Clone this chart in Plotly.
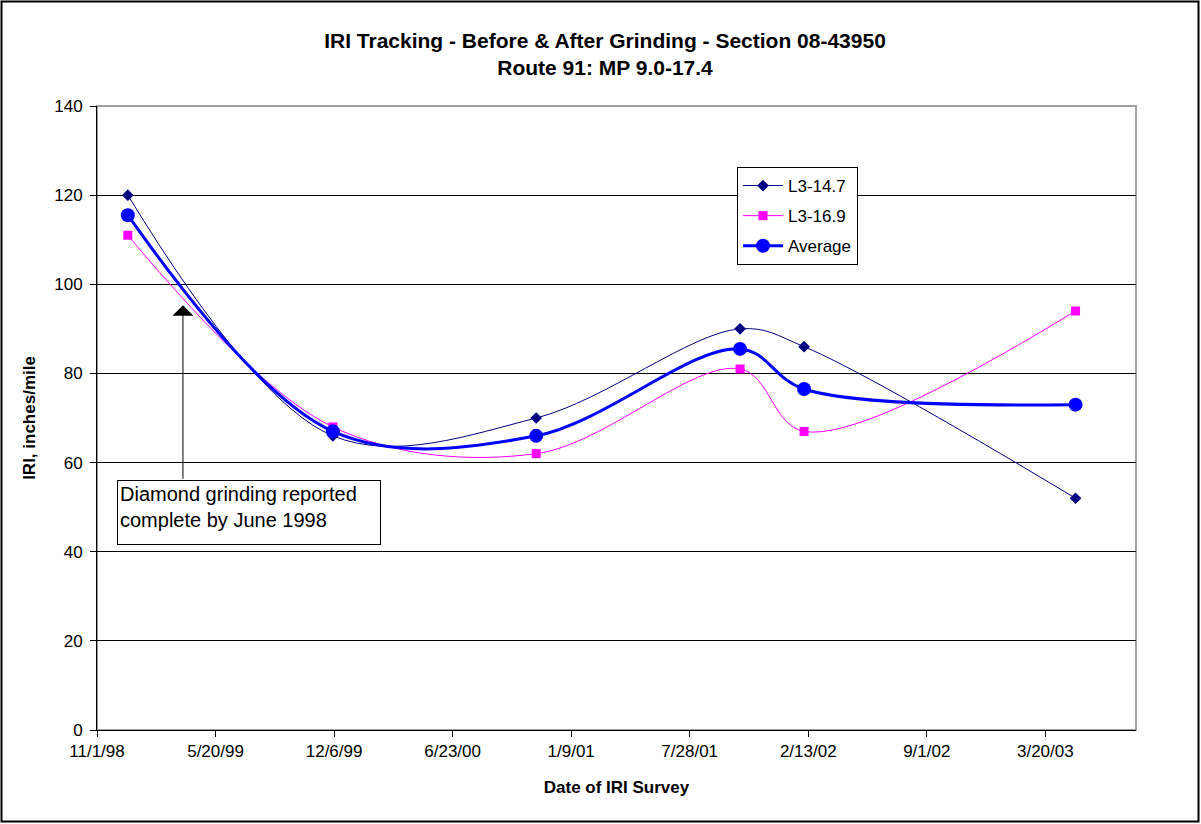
import plotly.graph_objects as go

dates = ["1998-12-23", "1999-12-04", "2000-11-11", "2001-10-21", "2002-02-06", "2003-05-10"]
l3_147 = [120, 66, 70, 90, 86, 52]
l3_169 = [111, 68, 62, 81, 67, 94]
average = [115.5, 67, 66, 85.5, 76.5, 73]

y_ticks = [0, 20, 40, 60, 80, 100, 120, 140]

FONT = "Liberation Sans, Arial, sans-serif"

fig = go.Figure()
fig.add_trace(go.Scatter(x=dates, y=l3_147, name="L3-14.7", mode="lines+markers", legendgroup="a",
                         line=dict(color="#000080", width=1, shape="spline", smoothing=1),
                         marker=dict(symbol="diamond", size=9, color="#000080")))
fig.add_trace(go.Scatter(x=dates, y=l3_169, name="L3-16.9", mode="lines+markers", legendgroup="b",
                         line=dict(color="#FF00FF", width=1, shape="spline", smoothing=1),
                         marker=dict(symbol="square", size=9, color="#FF00FF")))
fig.add_trace(go.Scatter(x=dates, y=average, name="Average", mode="lines+markers", legendgroup="c",
                         line=dict(color="#0000FF", width=3, shape="spline", smoothing=1),
                         marker=dict(symbol="circle", size=14, color="#0000FF")))

W, H = 1201, 824
L, R, T, B = 97, 65, 106, 94
pw, ph = W - L - R, H - T - B

fig.update_layout(
    width=W, height=H,
    margin=dict(l=L, r=R, t=T, b=B, autoexpand=False),
    paper_bgcolor="white", plot_bgcolor="white",
    font=dict(family=FONT, size=17, color="black"),
    title=dict(text="<b>IRI Tracking - Before & After Grinding - Section 08-43950<br>Route 91: MP 9.0-17.4</b>",
               x=605 / W, xanchor="center", y=1 - 48 / H, yanchor="top",
               font=dict(family=FONT, size=21, color="black")),
    showlegend=True,
    legend=dict(x=(737 - L) / pw, y=(730 - 167) / ph, xanchor="left", yanchor="top",
                bgcolor="white", bordercolor="black", borderwidth=1,
                font=dict(family=FONT, size=17), tracegroupgap=5, itemwidth=40),
)

fig.update_xaxes(
    type="date", range=["1998-11-01", "2003-08-20"],
    tick0="1998-11-01", dtick=200 * 86400000, tickformat="%-m/%-d/%y",
    showgrid=False, zeroline=False,
    showline=True, linecolor="black", linewidth=1,
    ticks="outside", ticklen=6, tickcolor="black",
    tickfont=dict(family=FONT, size=17),
    title=dict(text="<b>Date of IRI Survey</b>", font=dict(family=FONT, size=17), standoff=20),
)
fig.update_yaxes(
    range=[0, 140], tickvals=y_ticks,
    showgrid=True, gridcolor="black", gridwidth=1, zeroline=False,
    showline=True, linecolor="black", linewidth=1,
    ticks="outside", ticklen=6, tickcolor="black", ticklabelstandoff=4,
    tickfont=dict(family=FONT, size=17),
    title=dict(text="<b>IRI, inches/mile</b>", font=dict(family=FONT, size=17), standoff=14),
)

# plot area border (gray) and outer chart border
fig.add_shape(type="rect", xref="paper", yref="paper", x0=0, x1=1, y0=0, y1=1,
              line=dict(color="#A0A0A0", width=2), layer="below")
fig.add_shape(type="rect", xref="paper", yref="paper",
              x0=-(L - 1.5) / pw, x1=1 + (R - 2.5) / pw,
              y0=-(B - 2.5) / ph, y1=1 + (T - 1.5) / ph,
              line=dict(color="black", width=2))

# arrow
fig.add_annotation(x="1999-03-26", y=95.3, xref="x", yref="y", text="",
                   showarrow=True, ax=0, ay=175, axref="pixel", ayref="pixel",
                   arrowhead=1, arrowsize=3.5, arrowwidth=1, arrowcolor="black")
# text box
fig.add_annotation(xref="paper", yref="paper", x=(117 - L) / pw, y=(730 - 480) / ph,
                   xanchor="left", yanchor="top", showarrow=False,
                   text="Diamond grinding reported<br>complete by June 1998",
                   align="left", valign="top", font=dict(family=FONT, size=20, color="black"),
                   bgcolor="white", bordercolor="black", borderwidth=1, borderpad=2,
                   width=258, height=59)

fig.write_html("out.html", config={"displayModeBar": False},
               post_script="document.body.style.margin='0px';")
